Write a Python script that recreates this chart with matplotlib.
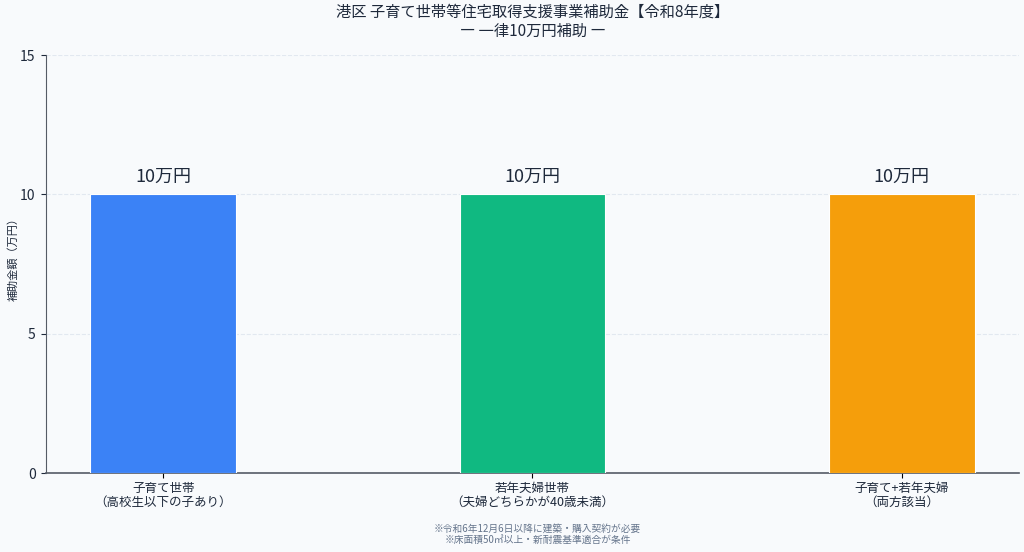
import numpy as np
import matplotlib.pyplot as plt

plt.rcParams['font.family'] = ['Noto Sans CJK JP', 'DejaVu Sans']

# データ
categories = ['子育て世帯\n（高校生以下の子あり）', '若年夫婦世帯\n（夫婦どちらかが40歳未満）', '子育て+若年夫婦\n（両方該当）']
amounts = [10, 10, 10]
bar_labels = ['10万円', '10万円', '10万円']
colors = ['#3b82f6', '#10b981', '#f59e0b']

fig, ax = plt.subplots(figsize=(10.24, 5.52), dpi=100)
fig.patch.set_facecolor('#f8fafc')
ax.set_facecolor('#f8fafc')

x = np.arange(len(categories))
bars = ax.bar(x, amounts, width=0.395, color=colors, edgecolor='white', linewidth=0.8, zorder=3)

for b, lab in zip(bars, bar_labels):
    ax.text(b.get_x() + b.get_width() / 2, b.get_height() + 0.3, lab,
            ha='center', va='bottom', fontsize=13, color='#1e293b')

ax.set_xticks(x)
ax.set_xticklabels(categories, fontsize=9, color='#1e293b', linespacing=1.1)
ax.set_ylim(0, 15)
ax.set_yticks([0, 5, 10, 15])
ax.tick_params(axis='y', labelsize=10, colors='#1e293b', pad=4)
ax.tick_params(axis='x', pad=3)
ax.set_ylabel('補助金額（万円）', fontsize=8, color='#1e293b')
ax.yaxis.set_label_coords(-0.028, 0.518)
ax.yaxis.grid(True, linestyle='--', color='#e2e8f0', linewidth=0.8, zorder=0)
ax.spines['top'].set_visible(False)
ax.spines['right'].set_visible(False)
ax.spines['left'].set_color('#555b66')
ax.spines['bottom'].set_color('#555b66')
ax.spines['bottom'].set_linewidth(1.2)

ax.set_title('港区 子育て世帯等住宅取得支援事業補助金【令和8年度】\n― 一律10万円補助 ―',
             fontsize=11, color='#1e293b', pad=14, linespacing=1.15)

fig.text(0.525, 0.012, '※令和6年12月6日以降に建築・購入契約が必要\n※床面積50㎡以上・新耐震基準適合が条件',
         ha='center', va='bottom', fontsize=7, color='#64748b', linespacing=1.2)

plt.subplots_adjust(left=0.045, right=0.995, top=0.9, bottom=0.143)
plt.savefig('out.png', dpi=100, facecolor=fig.get_facecolor())
